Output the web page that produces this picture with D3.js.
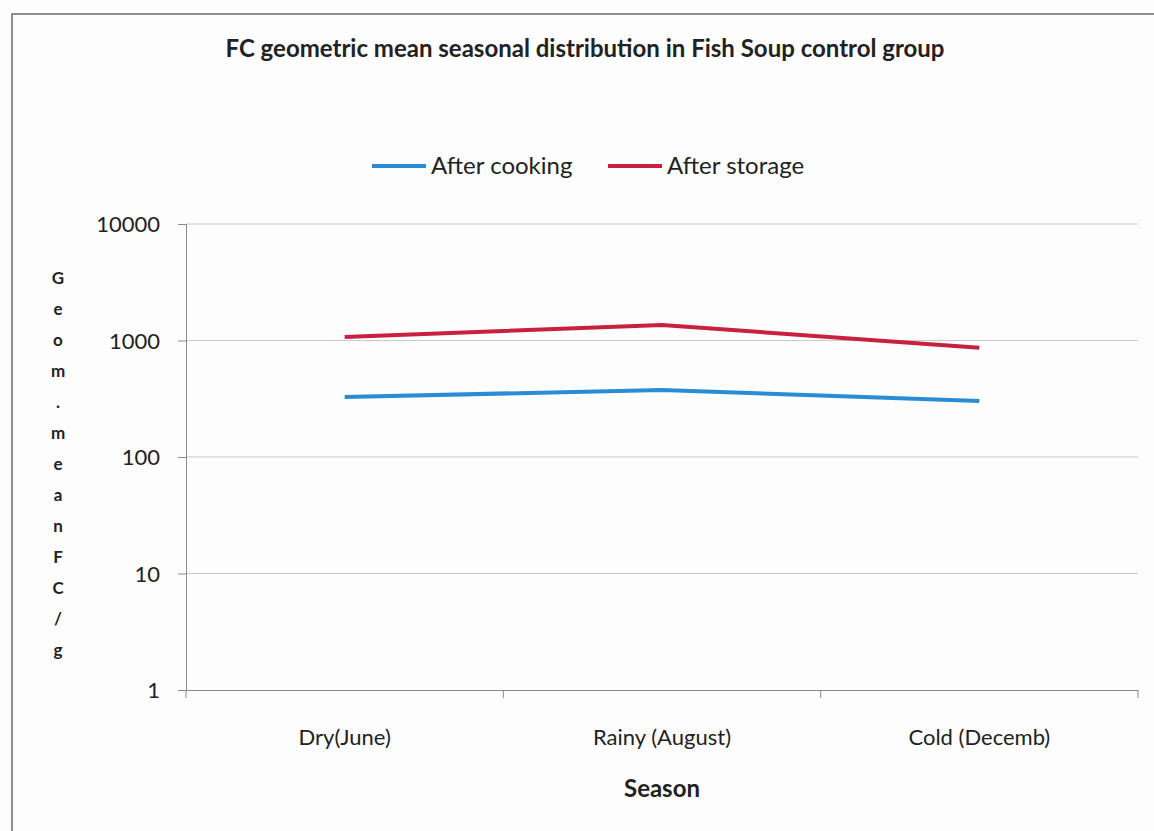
<!DOCTYPE html>
<html>
<head>
<meta charset="utf-8">
<script src="https://cdn.jsdelivr.net/npm/d3@7"></script>
<style>
  body { margin: 0; background: #fdfdfd; }
  svg { display: block; }
  text { font-family: Lato, "Open Sans", sans-serif; fill: #222; }
</style>
</head>
<body>
<div id="chart"></div>
<script>
// Data
const seasons = ["Dry(June)", "Rainy (August)", "Cold (Decemb)"];
const afterCooking = [327, 376, 303];
const afterStorage = [1070, 1360, 865];
const yTicks = [1, 10, 100, 1000, 10000];
const seriesNames = ["After cooking", "After storage"];
const seriesColors = ["#2a8cd4", "#c9203f"];

const W = 1154, H = 831;
const margin = { top: 224, right: 16, bottom: 141, left: 186 };
const width = W - margin.left - margin.right;
const height = H - margin.top - margin.bottom;

const svg = d3.select("#chart").append("svg")
    .attr("width", W)
    .attr("height", H);

// outer chart border (the page crop cuts the right/bottom sides)
svg.append("rect")
    .attr("x", 12).attr("y", 14)
    .attr("width", W + 20).attr("height", H + 20)
    .attr("fill", "none")
    .attr("stroke", "#6a6a6a")
    .attr("stroke-width", 1.5);

const g = svg.append("g")
    .attr("transform", `translate(${margin.left},${margin.top})`);

// Scales
const x = d3.scaleBand().domain(seasons).range([0, width]).padding(0);
const y = d3.scaleLog().domain([1, 10000]).range([height, 0]);

// Gridlines
g.selectAll(".grid")
    .data(yTicks.slice(1))
    .enter().append("line")
    .attr("x1", 0).attr("x2", width)
    .attr("y1", d => y(d)).attr("y2", d => y(d))
    .attr("stroke", "#c9c9c9")
    .attr("stroke-width", 1);

// Y axis
const yAxis = g.append("g")
    .call(d3.axisLeft(y).tickValues(yTicks).tickFormat(d3.format("d")).tickSize(8).tickPadding(18));
yAxis.select(".domain").attr("stroke", "#8a8a8a");
yAxis.selectAll(".tick line").attr("stroke", "#8a8a8a");
yAxis.selectAll("text").style("font-size", "22px").attr("fill", "#222").attr("dy", "0.35em");

// X axis with ticks at category boundaries
const xAxis = g.append("g")
    .attr("transform", `translate(0,${height})`)
    .call(d3.axisBottom(x).tickSize(0).tickPadding(39));
xAxis.select(".domain").attr("stroke", "#8a8a8a");
xAxis.selectAll("text").style("font-size", "22px").attr("fill", "#222");
const bounds = seasons.map(s => x(s)).concat([width]);
xAxis.selectAll(".bound")
    .data(bounds)
    .enter().append("line")
    .attr("x1", d => d).attr("x2", d => d)
    .attr("y1", 0).attr("y2", 8)
    .attr("stroke", "#8a8a8a");

// Lines
const line = d3.line()
    .x((d, i) => x(seasons[i]) + x.bandwidth() / 2)
    .y(d => y(d));

[afterCooking, afterStorage].forEach((series, i) => {
    g.append("path")
        .datum(series)
        .attr("fill", "none")
        .attr("stroke", seriesColors[i])
        .attr("stroke-width", 4)
        .attr("stroke-linejoin", "round")
        .attr("d", line);
});

// Title
svg.append("text")
    .attr("x", 585).attr("y", 57)
    .attr("text-anchor", "middle")
    .style("font-size", "24px")
    .style("font-weight", "bold")
    .text("FC geometric mean seasonal distribution in Fish Soup control group");

// Legend
const legendX = [372, 608];
seriesNames.forEach((name, i) => {
    svg.append("line")
        .attr("x1", legendX[i]).attr("x2", legendX[i] + 54)
        .attr("y1", 166).attr("y2", 166)
        .attr("stroke", seriesColors[i])
        .attr("stroke-width", 4);
    svg.append("text")
        .attr("x", legendX[i] + 59).attr("y", 174)
        .style("font-size", "24px")
        .text(name);
});

// Axis title
svg.append("text")
    .attr("x", 662).attr("y", 797)
    .attr("text-anchor", "middle")
    .style("font-size", "24px")
    .style("font-weight", "bold")
    .text("Season");

// Stacked vertical y-axis title
const yLabel = "Geom.meanFC/g".split("");
svg.append("text")
    .attr("text-anchor", "middle")
    .style("font-size", "17px")
    .style("font-weight", "bold")
    .selectAll("tspan")
    .data(yLabel)
    .enter().append("tspan")
    .attr("x", 58)
    .attr("y", (d, i) => 284 + i * 31)
    .text(d => d);
</script>
</body>
</html>
